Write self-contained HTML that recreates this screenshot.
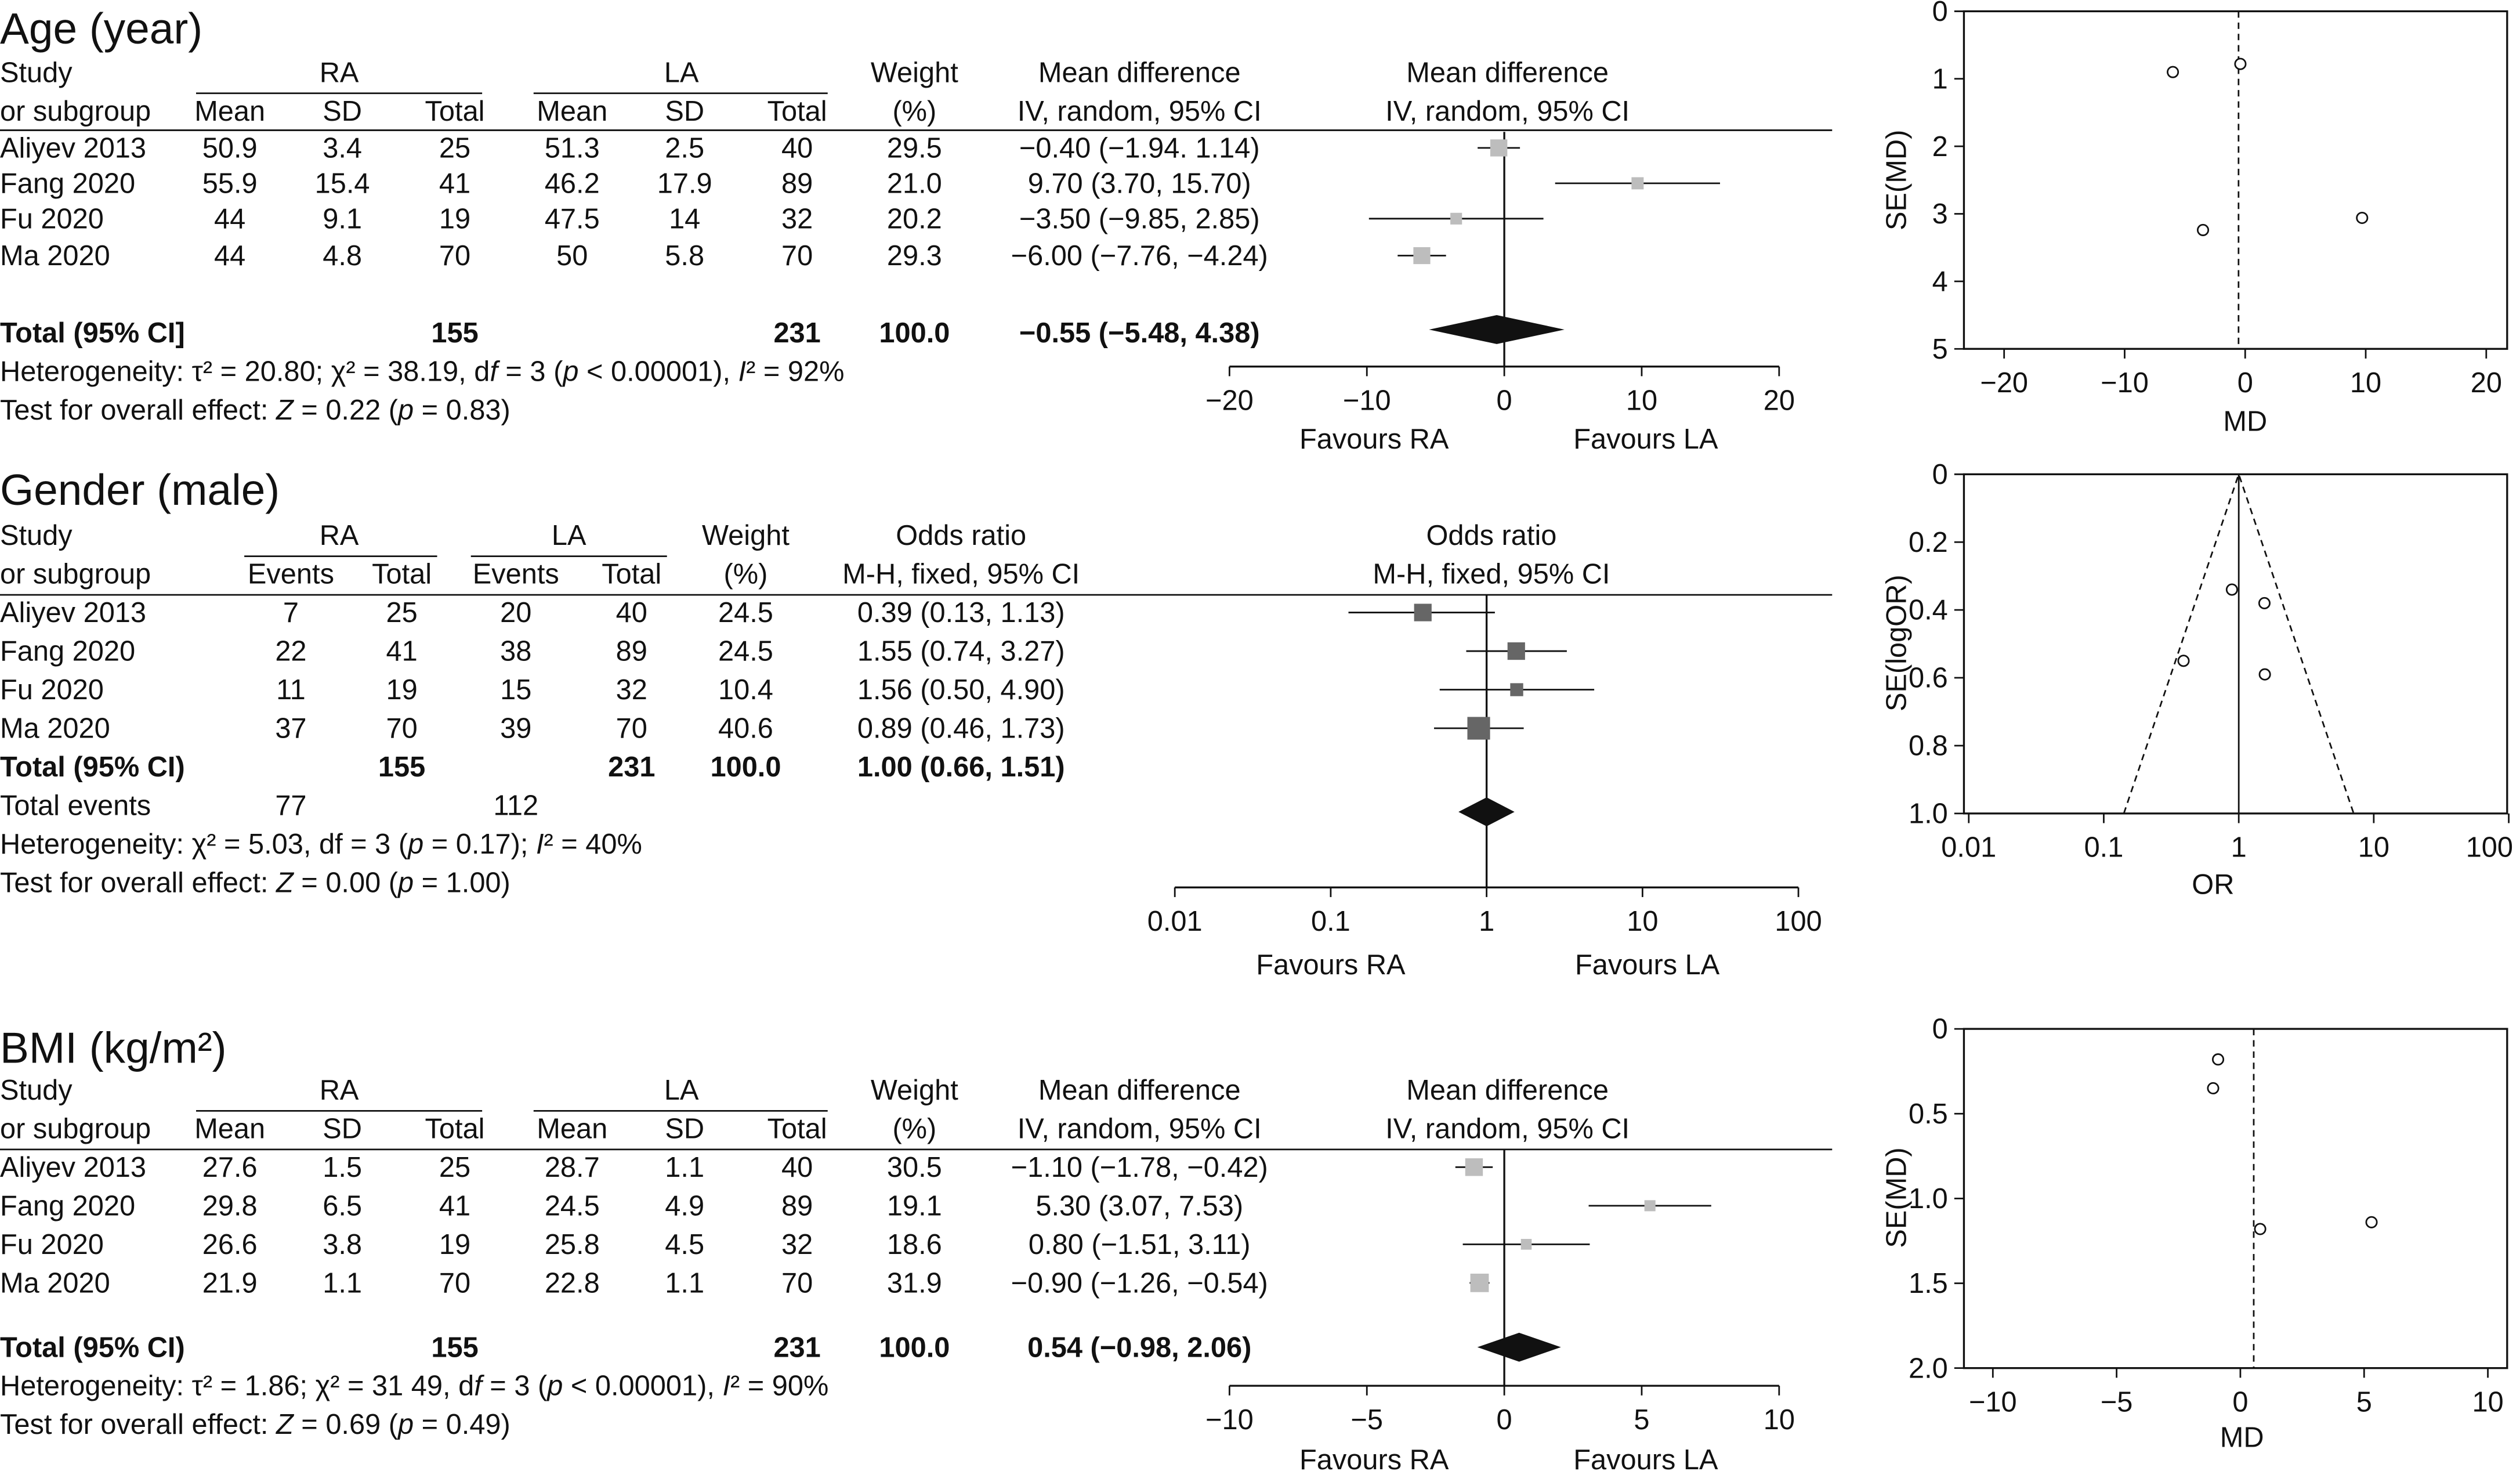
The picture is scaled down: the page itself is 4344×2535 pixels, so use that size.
<!DOCTYPE html>
<html><head><meta charset="utf-8">
<style>
html,body{margin:0;padding:0;background:#fff;}
svg{display:block;}
text{font-family:"Liberation Sans",sans-serif;font-size:17.6px;fill:#111;}
.t{font-size:27px;}
.m{text-anchor:middle;}
.e{text-anchor:end;}
.b{font-weight:bold;}
</style></head>
<body>
<svg id="s" width="4344" height="2535" viewBox="0 0 1568 915" xmlns="http://www.w3.org/2000/svg">
<g id="static">
<text class="t" x="0" y="27">Age (year)</text>
<text x="0" y="51">Study</text><text x="0" y="75">or subgroup</text>
<text class="m" x="211" y="51">RA</text><text class="m" x="424" y="51">LA</text>
<line x1="122" y1="58" x2="300" y2="58" stroke="#111"/><line x1="332" y1="58" x2="515" y2="58" stroke="#111"/>
<text class="m" x="143" y="75">Mean</text><text class="m" x="213" y="75">SD</text><text class="m" x="283" y="75">Total</text>
<text class="m" x="356" y="75">Mean</text><text class="m" x="426" y="75">SD</text><text class="m" x="496" y="75">Total</text>
<text class="m" x="569" y="51">Weight</text><text class="m" x="569" y="75">(%)</text>
<text class="m" x="709" y="51">Mean difference</text><text class="m" x="709" y="75">IV, random, 95% CI</text>
<text class="m" x="938" y="51">Mean difference</text><text class="m" x="938" y="75">IV, random, 95% CI</text>
<line x1="0" y1="81" x2="1140" y2="81" stroke="#111"/>
<g id="t1"></g>
<text class="b" x="0" y="213">Total (95% CI]</text><text class="m b" x="283" y="213">155</text><text class="m b" x="496" y="213">231</text><text class="m b" x="569" y="213">100.0</text><text class="m b" x="709" y="213">−0.55 (−5.48, 4.38)</text>
<text x="0" y="237">Heterogeneity: τ² = 20.80; χ² = 38.19, d<tspan font-style="italic">f</tspan> = 3 (<tspan font-style="italic">p</tspan> &lt; 0.00001), <tspan font-style="italic">I</tspan>² = 92%</text>
<text x="0" y="261">Test for overall effect: <tspan font-style="italic">Z</tspan> = 0.22 (<tspan font-style="italic">p</tspan> = 0.83)</text>
<text class="m" x="855" y="279">Favours RA</text><text class="m" x="1024" y="279">Favours LA</text>
<text class="t" x="0" y="314">Gender (male)</text>
<text x="0" y="339">Study</text><text x="0" y="363">or subgroup</text>
<text class="m" x="211" y="339">RA</text><text class="m" x="354" y="339">LA</text>
<line x1="152" y1="346" x2="272" y2="346" stroke="#111"/><line x1="293" y1="346" x2="415" y2="346" stroke="#111"/>
<text class="m" x="181" y="363">Events</text><text class="m" x="250" y="363">Total</text><text class="m" x="321" y="363">Events</text><text class="m" x="393" y="363">Total</text>
<text class="m" x="464" y="339">Weight</text><text class="m" x="464" y="363">(%)</text>
<text class="m" x="598" y="339">Odds ratio</text><text class="m" x="598" y="363">M-H, fixed, 95% CI</text>
<text class="m" x="928" y="339">Odds ratio</text><text class="m" x="928" y="363">M-H, fixed, 95% CI</text>
<line x1="0" y1="370" x2="1140" y2="370" stroke="#111"/>
<g id="t2"></g>
<text class="b" x="0" y="483">Total (95% CI)</text><text class="m b" x="250" y="483">155</text><text class="m b" x="393" y="483">231</text><text class="m b" x="464" y="483">100.0</text><text class="m b" x="598" y="483">1.00 (0.66, 1.51)</text>
<text x="0" y="507">Total events</text><text class="m" x="181" y="507">77</text><text class="m" x="321" y="507">112</text>
<text x="0" y="531">Heterogeneity: χ² = 5.03, df = 3 (<tspan font-style="italic">p</tspan> = 0.17); <tspan font-style="italic">I</tspan>² = 40%</text>
<text x="0" y="555">Test for overall effect: <tspan font-style="italic">Z</tspan> = 0.00 (<tspan font-style="italic">p</tspan> = 1.00)</text>
<text class="m" x="828" y="606">Favours RA</text><text class="m" x="1025" y="606">Favours LA</text>
<text class="t" x="0" y="661">BMI (kg/m²)</text>
<text x="0" y="684">Study</text><text x="0" y="708">or subgroup</text>
<text class="m" x="211" y="684">RA</text><text class="m" x="424" y="684">LA</text>
<line x1="122" y1="691" x2="300" y2="691" stroke="#111"/><line x1="332" y1="691" x2="515" y2="691" stroke="#111"/>
<text class="m" x="143" y="708">Mean</text><text class="m" x="213" y="708">SD</text><text class="m" x="283" y="708">Total</text>
<text class="m" x="356" y="708">Mean</text><text class="m" x="426" y="708">SD</text><text class="m" x="496" y="708">Total</text>
<text class="m" x="569" y="684">Weight</text><text class="m" x="569" y="708">(%)</text>
<text class="m" x="709" y="684">Mean difference</text><text class="m" x="709" y="708">IV, random, 95% CI</text>
<text class="m" x="938" y="684">Mean difference</text><text class="m" x="938" y="708">IV, random, 95% CI</text>
<line x1="0" y1="715" x2="1140" y2="715" stroke="#111"/>
<g id="t3"></g>
<text class="b" x="0" y="844">Total (95% CI)</text><text class="m b" x="283" y="844">155</text><text class="m b" x="496" y="844">231</text><text class="m b" x="569" y="844">100.0</text><text class="m b" x="709" y="844">0.54 (−0.98, 2.06)</text>
<text x="0" y="868">Heterogeneity: τ² = 1.86; χ² = 31 49, d<tspan font-style="italic">f</tspan> = 3 (<tspan font-style="italic">p</tspan> &lt; 0.00001), <tspan font-style="italic">I</tspan>² = 90%</text>
<text x="0" y="892">Test for overall effect: <tspan font-style="italic">Z</tspan> = 0.69 (<tspan font-style="italic">p</tspan> = 0.49)</text>
<text class="m" x="855" y="914">Favours RA</text><text class="m" x="1024" y="914">Favours LA</text>
<text class="m" transform="translate(1186,112) rotate(-90)">SE(MD)</text>
<text class="m" x="1397" y="268">MD</text>
<text class="m" transform="translate(1186,400) rotate(-90)">SE(logOR)</text>
<text class="m" x="1377" y="556">OR</text>
<text class="m" transform="translate(1186,745) rotate(-90)">SE(MD)</text>
<text class="m" x="1395" y="900">MD</text>
</g>
<g id="marks"></g>
</svg>
<script>
const studies=["Aliyev 2013","Fang 2020","Fu 2020","Ma 2020"];
const ageRA=[["50.9","3.4","25"],["55.9","15.4","41"],["44","9.1","19"],["44","4.8","70"]];
const ageLA=[["51.3","2.5","40"],["46.2","17.9","89"],["47.5","14","32"],["50","5.8","70"]];
const ageWeight=[29.5,21.0,20.2,29.3];
const ageMD=[-0.40,9.70,-3.50,-6.00];
const ageLo=[-1.94,3.70,-9.85,-7.76];
const ageHi=[1.14,15.70,2.85,-4.24];
const ageCItext=["−0.40 (−1.94. 1.14)","9.70 (3.70, 15.70)","−3.50 (−9.85, 2.85)","−6.00 (−7.76, −4.24)"];
const ageTotal=[-0.55,-5.48,4.38];
const ageTicks=[-20,-10,0,10,20];
const ageSE=[0.78,3.06,3.24,0.9];
const ageFunnelY=[0,1,2,3,4,5];

const genRA=[["7","25"],["22","41"],["11","19"],["37","70"]];
const genLA=[["20","40"],["38","89"],["15","32"],["39","70"]];
const genWeight=[24.5,24.5,10.4,40.6];
const genOR=[0.39,1.55,1.56,0.89];
const genLo=[0.13,0.74,0.50,0.46];
const genHi=[1.13,3.27,4.90,1.73];
const genCItext=["0.39 (0.13, 1.13)","1.55 (0.74, 3.27)","1.56 (0.50, 4.90)","0.89 (0.46, 1.73)"];
const genTotal=[1.00,0.66,1.51];
const genTicks=[0.01,0.1,1,10,100];
const genTickLabels=["0.01","0.1","1","10","100"];
const genSE=[0.55,0.38,0.59,0.34];
const genFunnelY=[0,0.2,0.4,0.6,0.8,1.0];

const bmiRA=[["27.6","1.5","25"],["29.8","6.5","41"],["26.6","3.8","19"],["21.9","1.1","70"]];
const bmiLA=[["28.7","1.1","40"],["24.5","4.9","89"],["25.8","4.5","32"],["22.8","1.1","70"]];
const bmiWeight=[30.5,19.1,18.6,31.9];
const bmiMD=[-1.10,5.30,0.80,-0.90];
const bmiLo=[-1.78,3.07,-1.51,-1.26];
const bmiHi=[-0.42,7.53,3.11,-0.54];
const bmiCItext=["−1.10 (−1.78, −0.42)","5.30 (3.07, 7.53)","0.80 (−1.51, 3.11)","−0.90 (−1.26, −0.54)"];
const bmiTotal=[0.54,-0.98,2.06];
const bmiTicks=[-10,-5,0,5,10];
const bmiSE=[0.35,1.14,1.18,0.18];
const bmiFunnelY=[0,0.5,1.0,1.5,2.0];

const NS="http://www.w3.org/2000/svg";
function el(parent,tag,attrs,txt){const e=document.createElementNS(NS,tag);for(const k in attrs)e.setAttribute(k,attrs[k]);if(txt!==undefined)e.textContent=txt;parent.appendChild(e);return e;}
const M=document.getElementById('marks');
const fmtNeg=v=>(v<0?"−"+Math.abs(v):String(v));

function rows(g,rowY,cols,cells){
  studies.forEach((s,i)=>{
    const y=rowY[i];
    const t=el(g,'text',{x:0,y:y+6},s);
    
    
    cells[i].forEach((c,j)=>{el(g,'text',{x:cols[j],y:y+6,'class':'m'},c);});
  });
}
const r1=[92,114,136,159], r2=[381,405,429,453], r3=[726,750,774,798];
rows(document.getElementById('t1'),r1,[143,213,283,356,426,496,569,709],studies.map((s,i)=>[...ageRA[i],...ageLA[i],ageWeight[i].toFixed(1),ageCItext[i]]));
rows(document.getElementById('t2'),r2,[181,250,321,393,464,598],studies.map((s,i)=>[...genRA[i],...genLA[i],genWeight[i].toFixed(1),genCItext[i]]));
rows(document.getElementById('t3'),r3,[143,213,283,356,426,496,569,709],studies.map((s,i)=>[...bmiRA[i],...bmiLA[i],bmiWeight[i].toFixed(1),bmiCItext[i]]));

function forest(opt){
  const g=el(M,'g',{});
  
  
  const X=opt.x;
  el(g,'line',{x1:X(opt.ref),y1:opt.top,x2:X(opt.ref),y2:opt.axisY,stroke:'#111','stroke-width':1.2});
  el(g,'line',{x1:X(opt.ticks[0]),y1:opt.axisY,x2:X(opt.ticks[opt.ticks.length-1]),y2:opt.axisY,stroke:'#111','stroke-width':1.2});
  opt.ticks.forEach((t,i)=>{
    el(g,'line',{x1:X(t),y1:opt.axisY,x2:X(t),y2:opt.axisY+6,stroke:'#111'});
    el(g,'text',{x:X(t),y:opt.axisY+27,'class':'m'},opt.labels[i]);
  });
  opt.est.forEach((v,i)=>{
    const y=opt.rowY[i];
    el(g,'line',{x1:X(opt.lo[i]),y1:y,x2:X(opt.hi[i]),y2:y,stroke:'#111','stroke-width':1});
    const sz=opt.sz(opt.w[i]);
    const sq=el(g,'rect',{x:X(v)-sz/2,y:y-sz/2,width:sz,height:sz,fill:opt.fill});
    
    
  });
  const [c,l,h]=opt.total;
  const d=el(g,'polygon',{points:`${X(l)},${opt.dy} ${X(c)},${opt.dy-9} ${X(h)},${opt.dy} ${X(c)},${opt.dy+9}`,fill:'#111'});
  
  
}
forest({name:'age-forest-plot',x:v=>936+v*8.55,ref:0,top:82,axisY:228,ticks:ageTicks,labels:ageTicks.map(fmtNeg),est:ageMD,lo:ageLo,hi:ageHi,w:ageWeight,rowY:r1,sz:w=>w*0.36,fill:'#bdbdbd',total:ageTotal,dy:205});
const lg=v=>Math.log10(v);
forest({name:'gender-forest-plot',x:v=>925+lg(v)*97,ref:1,top:370,axisY:552,ticks:genTicks,labels:genTickLabels,est:genOR,lo:genLo,hi:genHi,w:genWeight,rowY:r2,sz:w=>6+w*0.2,fill:'#666',total:genTotal,dy:505});
forest({name:'bmi-forest-plot',x:v=>936+v*17.1,ref:0,top:715,axisY:862,ticks:bmiTicks,labels:bmiTicks.map(fmtNeg),est:bmiMD,lo:bmiLo,hi:bmiHi,w:bmiWeight,rowY:r3,sz:w=>w*0.36,fill:'#bdbdbd',total:bmiTotal,dy:838});

function funnel(opt){
  const g=el(M,'g',{});
  
  
  const X=opt.x,Y=opt.y;
  el(g,'rect',{x:1222,y:opt.top,width:338,height:opt.bot-opt.top,fill:'none',stroke:'#111','stroke-width':1.2});
  opt.xt.forEach((t,i)=>{
    el(g,'line',{x1:X(t),y1:opt.bot,x2:X(t),y2:opt.bot+6,stroke:'#111'});
    el(g,'text',{x:Math.min(X(t),1549),y:opt.bot+27,'class':'m'},opt.xl[i]);
  });
  opt.yt.forEach(t=>{
    el(g,'line',{x1:1222,y1:Y(t),x2:1216,y2:Y(t),stroke:'#111'});
    el(g,'text',{x:1212,y:Y(t)+6,'class':'e'},opt.yfmt(t));
  });
  opt.extra(g);
  opt.px.forEach((v,i)=>{
    const c=el(g,'circle',{cx:X(v),cy:Y(opt.se[i]),r:3.3,fill:'#fff',stroke:'#111','stroke-width':1});
    
    
  });
}
const f1=t=>t===0?"0":t.toFixed(1);
funnel({name:'age-funnel-plot',top:7,bot:217,x:v=>1397+v*7.5,y:s=>7+s*42,xt:ageTicks,xl:ageTicks.map(fmtNeg),yt:ageFunnelY,yfmt:String,px:ageMD,se:ageSE,
  extra:g=>el(g,'line',{x1:1397+ageTotal[0]*7.5,y1:7,x2:1397+ageTotal[0]*7.5,y2:217,stroke:'#111','stroke-dasharray':'4,3'})});
funnel({name:'gender-funnel-plot',top:295,bot:506,x:v=>1393+lg(v)*84,y:s=>295+s*211,xt:genTicks,xl:genTickLabels,yt:genFunnelY,yfmt:f1,px:genOR,se:genSE,
  extra:g=>{const X=v=>1393+lg(v)*84,b=1.0;
    el(g,'line',{x1:X(1),y1:295,x2:X(1),y2:506,stroke:'#111'});
    el(g,'polyline',{points:`${X(Math.exp(-1.96*b))},506 ${X(1)},295 ${X(Math.exp(1.96*b))},506`,fill:'none',stroke:'#111','stroke-dasharray':'4,3'});}});
funnel({name:'bmi-funnel-plot',top:640,bot:851,x:v=>1394+v*15.4,y:s=>640+s*105.5,xt:bmiTicks,xl:bmiTicks.map(fmtNeg),yt:bmiFunnelY,yfmt:f1,px:bmiMD,se:bmiSE,
  extra:g=>el(g,'line',{x1:1394+bmiTotal[0]*15.4,y1:640,x2:1394+bmiTotal[0]*15.4,y2:851,stroke:'#111','stroke-dasharray':'4,3'})});
</script>
</body></html>
